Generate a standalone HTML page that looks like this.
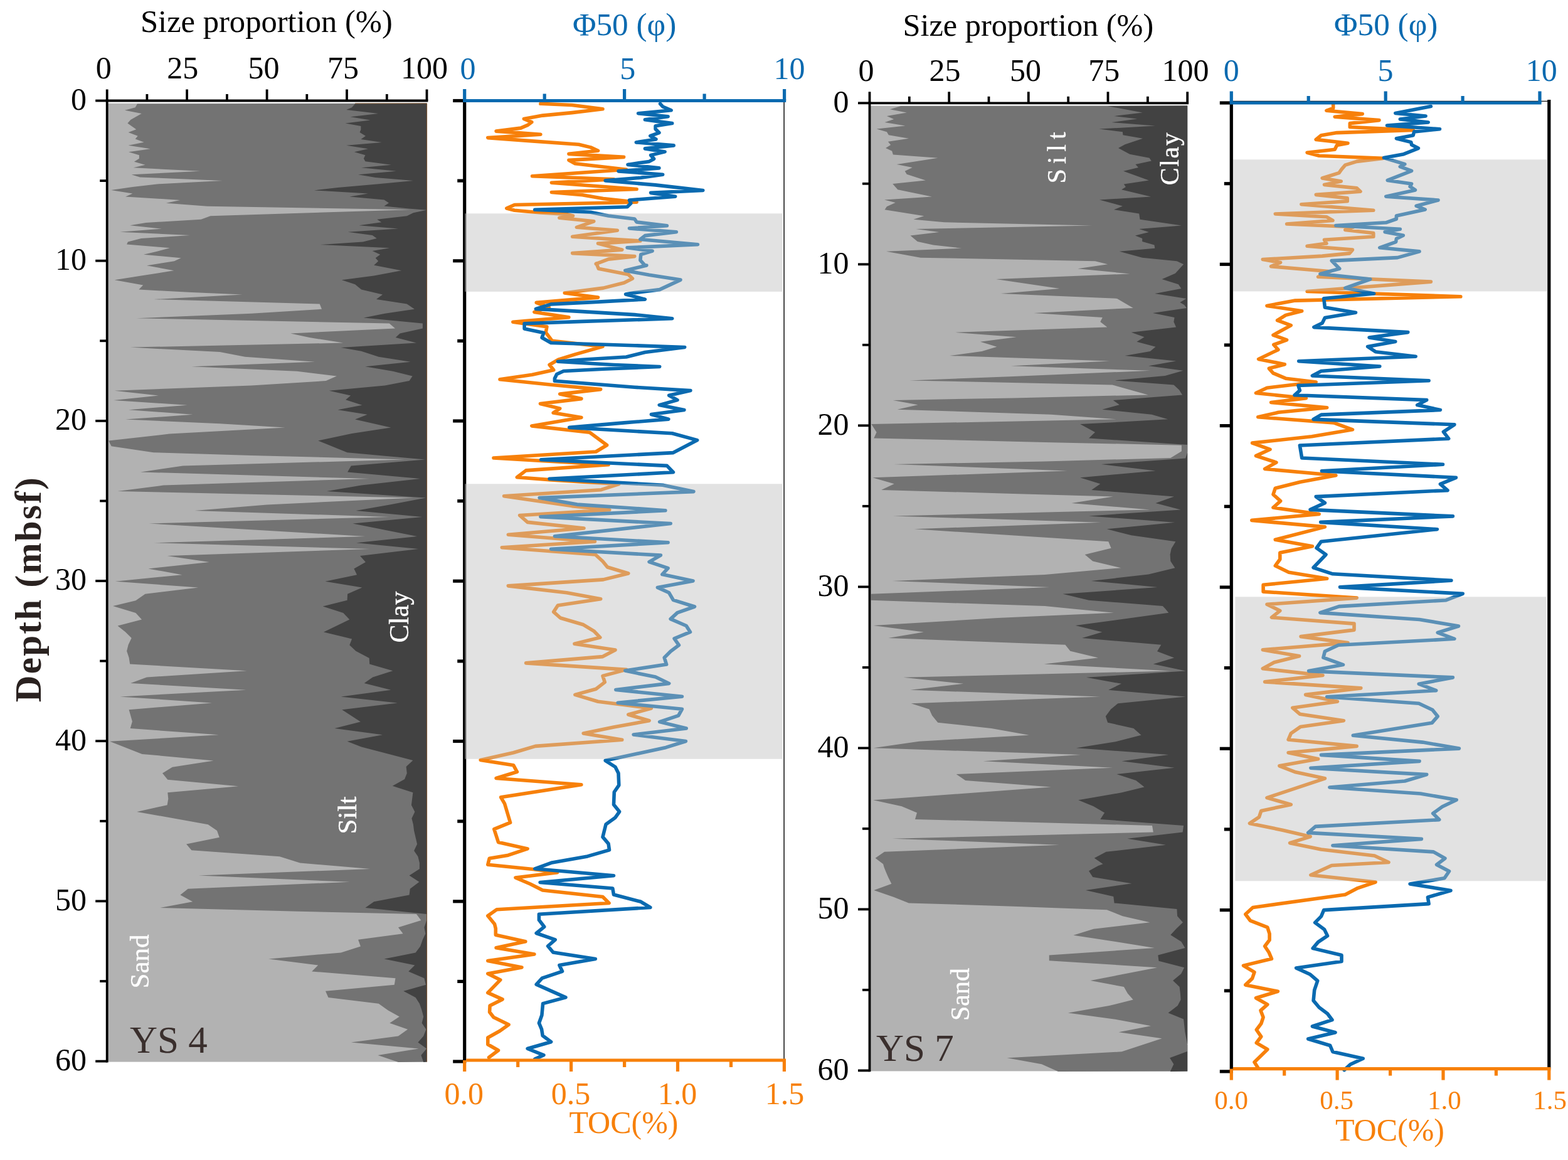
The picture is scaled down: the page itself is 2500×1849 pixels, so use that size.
<!DOCTYPE html>
<html lang="en"><head><meta charset="utf-8"><title>Grain size, Φ50 and TOC versus depth (YS 4, YS 7)</title>
<style>html,body{margin:0;padding:0;background:#fff}body{width:2500px;height:1849px;overflow:hidden}svg{display:block}</style>
</head><body>
<svg width="2500" height="1849" viewBox="0 0 2500 1849" font-family="'Liberation Serif', 'Times New Roman', serif">
<rect width="2500" height="1849" fill="#fff"/>
<rect x="170.7" y="164.8" width="509.8" height="1527.8" fill="#b2b2b2"/>
<polygon points="680.5,164.8 218.9,165.5 215.7,171.3 198.9,175.8 225.7,181.1 208.2,190.9 203.4,196.4 217.2,206.2 204.6,210.9 219.7,216.7 215.7,221.4 229.5,226.7 204.6,231.7 239.7,237.2 205.1,242.2 221.9,247.3 221.9,252.8 213.9,257.8 231.5,262.8 212.7,267.3 319.2,272.8 209.7,278.3 223.2,282.4 354.8,287.9 250.3,293.4 211.4,297.9 177.1,302.9 211.4,308.4 200.1,313.4 287.1,319.0 264.8,323.7 330.5,328.7 655.1,334.2 335.5,344.3 320.5,349.8 232.7,355.0 207.2,359.3 257.8,364.6 191.4,369.8 302.9,375.1 225.2,380.1 203.9,385.6 202.1,389.4 270.8,395.2 250.3,400.7 229.0,405.7 288.6,411.2 277.8,416.2 234.0,423.2 277.3,431.3 225.2,439.5 182.6,446.3 228.2,454.6 221.4,461.6 300.4,465.8 386.4,469.6 245.3,477.1 509.7,484.4 513.0,492.7 400.7,499.7 217.7,507.2 620.8,515.5 630.0,523.5 463.3,531.5 493.4,538.0 547.3,546.6 207.7,553.6 350.5,561.1 390.6,568.8 502.2,576.8 305.4,584.3 473.4,591.8 536.8,599.4 519.7,607.1 400.7,614.6 182.6,622.7 252.8,630.4 181.3,638.0 298.6,645.7 205.1,653.2 307.4,660.8 200.1,668.5 350.5,675.3 454.6,681.6 270.3,691.6 173.1,702.4 177.6,711.2 244.8,721.2 400.7,725.9 645.1,732.5 291.6,742.5 223.9,752.5 589.2,763.0 260.3,773.6 187.6,783.1 658.9,793.6 425.7,804.4 310.4,813.9 620.8,824.0 237.7,834.5 582.4,855.0 245.3,865.3 589.9,875.1 266.6,885.9 333.7,895.9 236.5,906.4 290.4,916.2 183.8,926.7 316.2,936.5 231.5,946.8 216.4,957.3 180.1,966.1 216.4,977.0 226.0,987.5 187.6,997.6 200.1,1007.6 209.7,1017.1 204.6,1027.7 202.1,1037.7 205.6,1048.2 207.2,1058.5 393.7,1069.3 234.0,1079.5 208.2,1089.1 392.6,1099.8 191.4,1110.4 338.0,1120.4 205.6,1131.2 210.9,1150.0 207.7,1161.0 348.8,1171.3 175.1,1181.8 226.5,1201.9 340.5,1212.4 274.8,1222.7 259.0,1232.5 267.3,1242.7 380.1,1253.3 267.3,1263.3 268.3,1273.3 266.6,1283.3 218.2,1293.9 331.7,1314.2 346.0,1323.9 349.8,1334.7 297.1,1345.5 305.4,1355.3 445.8,1365.3 478.4,1375.6 590.4,1385.0 316.7,1395.5 557.8,1405.8 299.7,1416.8 287.4,1426.4 307.2,1437.2 255.3,1446.9 475.9,1452.7 663.9,1457.0 671.4,1467.0 635.0,1478.3 642.6,1488.3 571.1,1497.8 574.9,1508.6 543.6,1518.4 428.2,1528.6 507.2,1538.4 497.2,1548.5 630.5,1559.2 628.8,1569.8 519.0,1579.8 523.5,1590.1 603.7,1599.8 618.8,1610.6 636.8,1620.6 621.3,1630.7 650.1,1640.7 635.0,1651.5 559.8,1661.5 667.6,1671.5 602.5,1682.1 635.0,1693.1 680.5,1692.6" fill="#737373"/>
<polygon points="680.5,164.8 566.1,165.5 561.1,171.3 552.3,175.1 603.2,181.1 558.6,186.3 590.4,191.4 550.6,196.4 575.4,200.9 575.4,206.4 573.6,210.9 582.9,216.7 575.4,221.9 608.7,227.0 552.3,231.7 586.9,237.2 564.9,242.2 582.4,247.3 579.9,252.8 582.4,257.3 623.8,262.8 576.1,267.3 631.8,272.8 571.1,278.3 598.7,282.9 658.9,287.9 601.2,293.4 538.5,299.1 500.9,303.4 586.9,308.4 557.3,313.4 612.5,318.5 620.0,323.5 612.5,328.5 651.3,332.5 680.2,334.7 658.9,339.3 648.8,344.3 601.2,349.8 608.2,354.3 572.4,359.3 635.0,364.6 554.8,369.8 593.7,375.1 600.7,379.9 578.6,385.6 511.0,390.1 621.3,395.2 593.7,399.9 606.2,405.7 598.7,411.2 603.2,416.2 596.2,422.7 640.1,431.3 596.2,439.5 544.8,446.3 566.1,453.3 576.1,461.6 610.0,469.6 600.0,477.1 648.8,484.4 660.9,492.7 613.7,499.7 579.9,506.5 673.9,515.5 673.9,523.5 637.6,531.5 630.8,538.0 663.9,546.6 543.6,554.1 576.1,559.8 603.7,568.8 654.6,576.8 582.4,584.3 626.3,591.8 657.6,599.4 652.6,607.1 613.7,614.6 524.8,622.7 559.1,630.4 551.1,637.2 577.4,645.7 538.5,653.2 585.7,660.8 566.1,668.5 623.3,681.6 561.1,691.1 507.2,702.4 553.6,721.2 613.7,726.7 677.7,732.5 559.8,742.5 554.1,752.5 670.1,763.0 576.1,773.6 521.0,783.1 678.9,793.6 621.3,804.4 567.4,813.9 673.4,824.0 562.4,834.5 665.1,855.0 568.1,865.3 667.1,875.1 574.1,885.9 582.9,895.9 564.4,906.4 569.1,916.2 518.5,926.7 577.4,936.5 554.1,946.8 553.6,956.8 514.7,966.6 547.3,977.0 557.3,987.5 516.0,1007.6 561.1,1018.4 557.3,1028.2 567.4,1037.7 588.7,1049.0 589.2,1058.5 626.3,1069.3 594.2,1079.5 580.7,1089.1 623.3,1099.8 543.6,1110.4 633.8,1120.4 545.3,1131.2 574.9,1150.5 533.5,1161.0 610.0,1171.3 553.6,1181.8 576.1,1190.6 658.4,1211.9 647.6,1221.9 648.8,1232.5 645.1,1242.0 625.8,1252.8 658.4,1263.3 655.9,1283.3 661.4,1293.9 656.4,1304.6 658.9,1314.2 660.1,1323.9 662.6,1334.7 665.1,1345.5 660.1,1356.0 666.4,1365.3 668.9,1375.6 668.9,1385.0 652.6,1395.5 668.4,1405.8 653.8,1416.8 652.6,1426.4 596.2,1437.2 582.4,1446.9 680.2,1457.0 680.2,1467.0 676.4,1478.3 678.4,1488.3 673.9,1497.8 670.1,1508.6 662.6,1518.4 612.5,1528.6 661.4,1538.4 651.3,1548.5 676.4,1559.2 678.9,1569.8 643.3,1579.8 662.6,1590.1 668.9,1599.8 672.6,1610.6 675.2,1620.6 672.6,1630.7 679.4,1640.7 675.2,1651.5 666.4,1661.5 680.2,1671.5 671.4,1682.1 675.2,1693.1 680.5,1692.6" fill="#424242"/>
<rect x="679.9" y="164.8" width="1.2" height="1527.8" fill="#7a4a1e" opacity="0.75"/>
<rect x="566.1" y="164.3" width="114.4" height="1.1" fill="#7a4a1e" opacity="0.75"/>
<line x1="170.7" y1="158.6" x2="170.7" y2="1693.5" stroke="#000" stroke-width="3.8"/>
<line x1="168.8" y1="160.5" x2="682.4" y2="160.5" stroke="#000" stroke-width="3.8"/>
<line x1="170.7" y1="142.5" x2="170.7" y2="160.5" stroke="#000" stroke-width="3.8"/>
<line x1="234.4" y1="150.0" x2="234.4" y2="160.5" stroke="#000" stroke-width="3.8"/>
<line x1="298.1" y1="142.5" x2="298.1" y2="160.5" stroke="#000" stroke-width="3.8"/>
<line x1="361.9" y1="150.0" x2="361.9" y2="160.5" stroke="#000" stroke-width="3.8"/>
<line x1="425.6" y1="142.5" x2="425.6" y2="160.5" stroke="#000" stroke-width="3.8"/>
<line x1="489.3" y1="150.0" x2="489.3" y2="160.5" stroke="#000" stroke-width="3.8"/>
<line x1="553.0" y1="142.5" x2="553.0" y2="160.5" stroke="#000" stroke-width="3.8"/>
<line x1="616.8" y1="150.0" x2="616.8" y2="160.5" stroke="#000" stroke-width="3.8"/>
<line x1="680.5" y1="142.5" x2="680.5" y2="160.5" stroke="#000" stroke-width="3.8"/>
<line x1="152.2" y1="160.5" x2="170.7" y2="160.5" stroke="#000" stroke-width="3.8"/>
<line x1="159.2" y1="288.1" x2="170.7" y2="288.1" stroke="#000" stroke-width="3.8"/>
<line x1="152.2" y1="415.7" x2="170.7" y2="415.7" stroke="#000" stroke-width="3.8"/>
<line x1="159.2" y1="543.3" x2="170.7" y2="543.3" stroke="#000" stroke-width="3.8"/>
<line x1="152.2" y1="670.9" x2="170.7" y2="670.9" stroke="#000" stroke-width="3.8"/>
<line x1="159.2" y1="798.5" x2="170.7" y2="798.5" stroke="#000" stroke-width="3.8"/>
<line x1="152.2" y1="926.0" x2="170.7" y2="926.0" stroke="#000" stroke-width="3.8"/>
<line x1="159.2" y1="1053.6" x2="170.7" y2="1053.6" stroke="#000" stroke-width="3.8"/>
<line x1="152.2" y1="1181.2" x2="170.7" y2="1181.2" stroke="#000" stroke-width="3.8"/>
<line x1="159.2" y1="1308.8" x2="170.7" y2="1308.8" stroke="#000" stroke-width="3.8"/>
<line x1="152.2" y1="1436.4" x2="170.7" y2="1436.4" stroke="#000" stroke-width="3.8"/>
<line x1="159.2" y1="1564.0" x2="170.7" y2="1564.0" stroke="#000" stroke-width="3.8"/>
<line x1="152.2" y1="1691.6" x2="170.7" y2="1691.6" stroke="#000" stroke-width="3.8"/>
<rect x="1386.5" y="168.6" width="506.7" height="1538.8" fill="#b2b2b2"/>
<polygon points="1893.2,168.6 1436.4,169.1 1418.9,174.3 1445.7,179.6 1413.9,185.1 1425.2,190.1 1410.6,195.1 1443.5,200.6 1397.6,205.6 1413.9,210.2 1416.9,215.2 1449.0,220.7 1415.9,225.7 1420.1,231.0 1412.1,236.0 1422.2,240.7 1423.9,246.5 1495.3,251.8 1429.7,262.1 1454.7,267.1 1442.7,272.8 1445.7,277.8 1475.8,287.4 1423.2,292.9 1431.4,302.2 1485.8,313.4 1410.1,318.5 1427.7,323.0 1413.9,329.2 1410.6,334.2 1473.3,344.3 1456.5,349.8 1505.4,354.3 1741.8,359.6 1460.3,365.1 1497.4,370.1 1451.5,375.6 1462.8,384.9 1487.8,390.6 1533.5,395.7 1413.1,400.7 1467.8,410.7 1746.0,416.2 1766.1,421.2 1718.4,428.2 1801.7,436.5 1588.1,445.0 1689.6,460.1 1595.6,467.9 1781.1,475.9 1806.7,490.9 1648.3,498.9 1757.8,506.0 1754.3,513.0 1765.3,521.5 1522.9,529.8 1620.7,537.3 1563.0,544.8 1589.4,552.8 1565.5,560.0 1514.1,567.0 1769.3,575.5 1611.9,583.3 1834.5,590.8 1615.7,600.1 1450.2,606.4 1773.6,613.4 1830.7,629.4 1615.7,634.4 1423.9,638.0 1463.5,645.2 1430.7,652.7 1675.8,660.8 1779.9,668.3 1389.3,676.1 1397.6,689.1 1393.3,698.4 1665.8,704.9 1883.9,709.7 1883.9,719.2 1866.3,730.0 1665.8,735.5 1425.2,740.0 1701.7,750.5 1391.3,761.3 1425.7,771.3 1405.1,781.1 1615.7,786.9 1774.8,791.4 1708.4,801.9 1833.8,812.4 1423.9,822.5 1755.5,832.7 1457.7,843.3 1767.3,863.3 1771.6,873.8 1729.7,884.1 1742.3,894.6 1787.4,905.2 1665.8,916.0 1422.7,926.0 1673.3,936.0 1388.8,946.8 1388.8,956.8 1665.8,966.1 1715.9,971.1 1776.1,976.8 1590.6,985.0 1392.6,997.1 1472.8,1007.6 1416.4,1017.1 1698.4,1027.7 1706.4,1037.7 1751.0,1048.5 1664.6,1058.5 1866.3,1069.5 1440.2,1079.8 1536.2,1089.8 1451.5,1099.8 1754.3,1110.4 1452.7,1121.2 1481.6,1130.4 1486.1,1140.5 1495.3,1151.7 1580.6,1161.0 1640.7,1171.8 1465.3,1181.8 1392.6,1192.3 1723.0,1203.1 1567.5,1213.2 1774.1,1223.7 1524.7,1234.0 1539.2,1244.0 1675.8,1254.5 1540.5,1264.5 1392.1,1275.3 1437.7,1285.3 1462.0,1295.4 1459.0,1305.9 1837.0,1315.9 1838.8,1326.5 1422.7,1336.7 1689.1,1346.8 1410.1,1357.8 1395.6,1367.8 1408.1,1377.3 1409.6,1382.5 1412.6,1390.0 1416.4,1398.8 1421.4,1408.8 1393.3,1418.9 1425.2,1430.1 1449.0,1439.4 1615.7,1444.7 1764.8,1450.2 1789.9,1460.2 1833.3,1470.2 1743.5,1480.8 1711.4,1490.8 1778.6,1501.1 1840.8,1511.1 1672.8,1522.4 1672.8,1531.2 1845.0,1542.2 1738.5,1563.0 1791.9,1573.0 1797.9,1583.5 1806.7,1593.6 1768.6,1603.1 1702.9,1614.4 1776.1,1624.4 1835.0,1635.2 1783.6,1645.2 1852.6,1655.2 1788.6,1676.3 1605.6,1686.3 1660.8,1696.3 1687.1,1708.1 1893.2,1707.4" fill="#737373"/>
<polygon points="1893.2,168.6 1766.1,169.1 1821.7,179.6 1776.1,185.1 1813.2,189.6 1772.3,195.1 1842.0,200.6 1752.3,205.6 1789.9,210.2 1790.4,215.2 1822.0,220.7 1793.6,230.2 1783.1,236.0 1801.2,245.8 1832.5,251.8 1835.8,256.5 1810.4,262.1 1815.0,267.1 1791.1,272.8 1831.8,287.4 1791.9,293.4 1794.9,297.9 1788.1,302.2 1835.0,313.4 1753.0,318.5 1789.9,328.5 1776.1,334.2 1816.2,340.5 1817.5,349.8 1883.9,359.6 1816.2,365.1 1831.8,370.1 1809.9,375.6 1821.2,379.9 1821.2,384.9 1840.5,390.6 1841.3,395.7 1784.9,400.7 1821.2,410.7 1876.4,416.2 1887.1,421.2 1873.9,435.8 1852.6,445.0 1878.9,453.3 1883.4,460.1 1841.3,467.9 1891.4,475.9 1881.4,482.1 1888.2,485.9 1891.9,490.9 1838.0,498.9 1872.6,506.0 1871.4,513.0 1875.1,521.5 1803.7,529.8 1824.5,537.3 1812.4,544.8 1842.5,552.8 1833.8,560.0 1793.6,567.0 1875.1,575.5 1831.2,583.3 1886.4,590.8 1857.6,598.9 1777.4,606.4 1871.4,613.4 1880.1,621.4 1885.1,629.4 1774.8,638.0 1784.9,645.2 1757.3,652.7 1836.3,660.8 1862.1,668.3 1722.2,676.1 1746.0,689.1 1736.0,698.4 1893.4,709.1 1893.4,720.4 1890.2,730.5 1756.0,740.0 1842.5,750.5 1722.2,761.3 1754.3,771.3 1740.3,781.1 1871.9,791.4 1842.5,801.9 1882.6,812.4 1736.0,822.5 1873.1,832.7 1764.8,843.3 1803.7,853.3 1874.4,863.3 1867.6,874.6 1865.6,884.1 1866.3,894.6 1873.4,905.2 1831.2,915.5 1739.8,926.0 1845.5,936.0 1694.6,946.8 1736.0,956.8 1853.8,966.1 1857.6,970.0 1863.3,976.8 1714.7,997.1 1757.3,1007.6 1725.2,1017.1 1851.3,1027.7 1845.0,1038.2 1872.1,1048.5 1838.8,1058.5 1890.7,1069.5 1732.2,1079.8 1787.9,1089.8 1767.3,1099.8 1890.7,1110.4 1782.4,1121.2 1771.1,1130.4 1762.8,1141.7 1766.1,1151.7 1807.4,1161.0 1819.5,1171.8 1778.6,1182.3 1715.9,1192.3 1863.3,1203.1 1788.6,1213.2 1872.6,1223.7 1780.4,1234.0 1811.2,1244.0 1824.5,1254.5 1788.6,1263.3 1719.2,1275.3 1743.5,1285.3 1761.1,1295.4 1754.3,1305.9 1887.1,1315.9 1885.6,1326.5 1797.4,1336.7 1858.8,1346.8 1763.6,1357.8 1744.8,1367.8 1758.6,1377.3 1751.0,1380.0 1736.0,1388.3 1742.3,1398.0 1804.4,1408.3 1731.0,1418.9 1775.3,1428.9 1776.6,1439.4 1876.4,1448.9 1877.1,1460.2 1885.9,1470.2 1875.1,1480.8 1866.3,1490.3 1883.4,1501.1 1889.4,1511.1 1846.3,1522.4 1847.5,1531.7 1888.2,1542.2 1883.1,1552.2 1870.1,1563.0 1880.6,1573.0 1881.9,1583.5 1882.6,1593.6 1877.6,1603.1 1862.6,1614.4 1887.1,1624.4 1889.4,1645.2 1893.4,1665.8 1893.4,1675.8 1865.1,1686.3 1871.4,1696.3 1865.8,1708.1 1893.2,1707.4" fill="#424242"/>
<line x1="1386.5" y1="162.4" x2="1386.5" y2="1708.3" stroke="#000" stroke-width="3.8"/>
<line x1="1384.6" y1="164.3" x2="1895.1" y2="164.3" stroke="#000" stroke-width="3.8"/>
<line x1="1386.5" y1="146.3" x2="1386.5" y2="164.3" stroke="#000" stroke-width="3.8"/>
<line x1="1449.8" y1="153.8" x2="1449.8" y2="164.3" stroke="#000" stroke-width="3.8"/>
<line x1="1513.2" y1="146.3" x2="1513.2" y2="164.3" stroke="#000" stroke-width="3.8"/>
<line x1="1576.5" y1="153.8" x2="1576.5" y2="164.3" stroke="#000" stroke-width="3.8"/>
<line x1="1639.8" y1="146.3" x2="1639.8" y2="164.3" stroke="#000" stroke-width="3.8"/>
<line x1="1703.2" y1="153.8" x2="1703.2" y2="164.3" stroke="#000" stroke-width="3.8"/>
<line x1="1766.5" y1="146.3" x2="1766.5" y2="164.3" stroke="#000" stroke-width="3.8"/>
<line x1="1829.9" y1="153.8" x2="1829.9" y2="164.3" stroke="#000" stroke-width="3.8"/>
<line x1="1893.2" y1="146.3" x2="1893.2" y2="164.3" stroke="#000" stroke-width="3.8"/>
<line x1="1368.0" y1="164.3" x2="1386.5" y2="164.3" stroke="#000" stroke-width="3.8"/>
<line x1="1375.0" y1="292.8" x2="1386.5" y2="292.8" stroke="#000" stroke-width="3.8"/>
<line x1="1368.0" y1="421.3" x2="1386.5" y2="421.3" stroke="#000" stroke-width="3.8"/>
<line x1="1375.0" y1="549.8" x2="1386.5" y2="549.8" stroke="#000" stroke-width="3.8"/>
<line x1="1368.0" y1="678.3" x2="1386.5" y2="678.3" stroke="#000" stroke-width="3.8"/>
<line x1="1375.0" y1="806.8" x2="1386.5" y2="806.8" stroke="#000" stroke-width="3.8"/>
<line x1="1368.0" y1="935.4" x2="1386.5" y2="935.4" stroke="#000" stroke-width="3.8"/>
<line x1="1375.0" y1="1063.9" x2="1386.5" y2="1063.9" stroke="#000" stroke-width="3.8"/>
<line x1="1368.0" y1="1192.4" x2="1386.5" y2="1192.4" stroke="#000" stroke-width="3.8"/>
<line x1="1375.0" y1="1320.9" x2="1386.5" y2="1320.9" stroke="#000" stroke-width="3.8"/>
<line x1="1368.0" y1="1449.4" x2="1386.5" y2="1449.4" stroke="#000" stroke-width="3.8"/>
<line x1="1375.0" y1="1577.9" x2="1386.5" y2="1577.9" stroke="#000" stroke-width="3.8"/>
<line x1="1368.0" y1="1706.4" x2="1386.5" y2="1706.4" stroke="#000" stroke-width="3.8"/>
<g fill="none" stroke-linejoin="round" stroke-linecap="round" stroke-width="5.6">
<polyline points="861.9,165.3 911.9,167.5 961.0,173.8 911.9,179.6 865.2,184.1 835.3,189.5 847.8,194.6 841.9,199.1 830.3,204.1 791.1,209.1 861.9,214.3 777.8,219.6 845.3,224.6 922.7,230.3 941.8,234.9 953.5,240.3 906.9,245.4 994.6,250.4 906.9,255.4 916.9,260.7 998.5,270.2 848.6,280.7 978.5,285.7 879.4,291.2 1015.1,301.5 879.4,306.5 928.5,310.7 961.8,316.5 1015.1,322.3 820.3,326.5 807.8,332.0 820.3,335.2 861.9,339.0 903.5,341.5 913.5,344.0 891.9,347.3 946.8,352.8 919.4,362.3 984.3,367.3 912.7,377.3 1020.9,384.0 953.5,388.1 991.8,398.1 912.7,403.6 1011.8,408.6 970.1,413.1 950.2,420.6 951.0,420.0 954.3,428.3 1001.8,437.5 1008.4,444.1 995.1,450.8 961.8,459.1 900.2,467.0 953.5,474.1 855.2,482.4 875.2,489.9 851.9,497.4 906.9,505.8 817.8,513.2 871.9,520.7 870.2,529.9 880.2,543.2 961.0,552.4 916.9,564.9 890.2,573.2 876.1,581.5 882.7,589.8 848.6,597.3 797.0,604.8 878.6,613.2 957.7,620.6 892.7,628.1 926.9,635.6 861.4,643.5 892.7,651.1 882.2,658.1 926.9,665.6 847.8,678.9 940.2,689.2 967.6,709.5 950.2,720.0 787.0,730.0 970.1,740.8 838.6,749.9 824.4,760.8 878.6,764.9 986.8,771.6 958.5,780.7 803.6,790.7 911.9,806.6 971.8,812.7 828.6,821.5 841.1,832.4 931.0,842.0 810.3,852.3 948.5,863.2 800.3,872.8 949.3,884.0 961.0,894.8 968.5,904.0 1001.8,914.0 961.8,923.9 810.3,933.9 903.5,944.8 957.7,954.7 889.4,965.0 882.7,975.3 893.5,985.0 930.2,995.8 946.8,1005.8 956.8,1016.1 916.0,1026.3 981.0,1036.1 961.0,1046.6 838.6,1056.9 998.5,1067.4 961.0,1077.4 964.3,1087.4 950.2,1098.2 916.9,1107.4 953.5,1118.2 1038.4,1129.0 1001.8,1139.0 1035.1,1148.7 978.5,1159.0 930.2,1169.0 991.8,1179.3 853.6,1189.4 818.6,1199.8 766.2,1211.4 818.6,1219.7 824.4,1230.3 791.1,1240.5 926.9,1250.8 798.6,1270.8 804.5,1280.8 813.6,1311.2 787.8,1321.6 794.5,1342.4 841.1,1352.9 810.3,1363.2 780.3,1368.2 777.8,1378.2 851.9,1385.7 888.6,1390.7 821.9,1399.0 845.3,1409.0 865.2,1419.0 961.0,1429.5 971.0,1439.5 792.0,1449.8 777.8,1459.8 788.6,1473.1 790.3,1480.0 790.3,1490.3 837.8,1500.8 791.1,1510.8 851.9,1521.1 777.8,1531.6 831.9,1541.9 777.8,1551.9 797.8,1561.9 777.8,1582.4 801.1,1592.9 781.1,1602.9 780.6,1613.2 787.0,1621.5 811.1,1633.2 797.0,1643.2 777.8,1654.0 777.8,1664.8 794.5,1674.3 779.5,1685.6" stroke="#f7800a"/>
<polyline points="1052.6,165.3 1056.7,170.0 1070.1,175.8 1017.6,180.8 1065.1,185.8 1028.4,190.8 1071.7,196.6 1045.1,200.8 1045.1,205.8 1050.9,211.6 1036.8,216.6 1045.9,221.9 1014.3,226.9 1074.2,231.9 1028.4,236.9 1060.1,241.9 1037.6,247.4 1042.6,253.2 1035.1,257.4 1001.0,262.4 1050.9,267.9 986.0,272.9 1056.7,278.2 1021.8,283.2 965.2,287.9 1045.1,294.9 1120.8,303.5 1037.6,307.4 1076.7,313.2 1003.5,319.0 1005.9,324.0 1000.1,329.8 852.8,334.3 941.8,338.2 970.1,344.0 1011.8,349.0 1015.1,354.0 1063.4,359.8 1003.5,364.0 1078.4,369.8 1028.4,375.6 1020.9,381.5 1112.5,389.8 1000.1,394.8 1040.1,400.1 1021.8,405.6 1020.9,414.8 1028.4,423.1 1030.9,423.0 996.8,431.2 1035.1,438.3 1085.0,446.1 1051.7,461.6 1011.8,466.6 997.6,469.1 1028.4,477.1 945.2,481.6 878.6,484.9 854.4,492.4 928.5,496.6 1011.8,501.6 1071.7,507.8 928.5,512.4 836.1,515.7 836.1,524.1 866.9,530.4 864.1,538.2 878.6,546.5 1011.8,550.7 1091.7,553.5 1028.4,561.5 998.5,569.0 928.5,573.2 889.4,576.2 978.5,581.5 1051.7,584.5 961.8,588.2 898.5,591.5 887.7,596.5 884.4,603.2 884.4,607.3 1011.8,617.3 1100.9,622.6 1066.7,630.3 1080.0,637.6 1051.2,645.6 1090.9,653.5 1038.4,660.6 1065.9,668.1 995.1,673.9 907.7,681.4 1071.7,690.8 1111.7,701.6 1073.4,721.6 862.7,732.8 1063.4,742.4 1073.4,752.8 876.1,763.3 1056.7,773.2 1105.9,783.6 860.2,793.6 920.2,804.1 1060.9,813.7 861.9,823.7 1069.2,834.5 884.4,854.8 1065.1,864.8 878.6,875.2 1053.4,885.1 1035.1,895.6 1065.1,905.6 1055.9,915.6 1105.0,925.9 1048.4,936.4 1066.7,944.8 1073.4,956.3 1107.5,967.0 1080.0,976.6 1069.2,986.6 1094.2,997.5 1100.5,1007.4 1075.1,1017.8 1082.5,1028.3 1069.2,1038.2 1059.2,1048.2 1062.6,1059.1 996.8,1069.1 1045.1,1079.0 1066.7,1089.4 981.8,1099.5 1087.5,1110.2 985.1,1120.2 1087.5,1130.2 1081.7,1140.7 1051.7,1150.6 1094.2,1161.0 1010.1,1171.0 1093.4,1181.5 1061.7,1191.4 965.2,1212.3 981.0,1222.5 986.0,1232.5 986.8,1251.6 979.3,1262.5 978.5,1282.4 987.6,1293.8 981.0,1303.2 966.0,1314.1 961.0,1334.1 970.1,1344.9 971.5,1354.9 936.8,1364.9 880.2,1374.9 852.8,1384.8 978.5,1395.7 861.1,1406.5 976.8,1416.0 978.5,1426.0 1021.8,1437.3 1036.8,1446.5 859.4,1457.3 859.4,1466.4 867.7,1477.3 855.2,1487.5 885.2,1497.8 873.6,1508.0 881.9,1518.0 949.3,1528.6 891.9,1538.6 896.5,1548.3 864.4,1559.1 855.2,1569.1 901.9,1589.9 865.6,1599.6 863.9,1618.2 859.4,1630.7 863.6,1640.7 865.2,1650.7 878.6,1660.7 841.1,1671.5 866.9,1681.8 852.8,1688.1" stroke="#0a6ab0"/>
</g>
<line x1="1250.1" y1="160.5" x2="1250.1" y2="1690.0" stroke="#3c3c3c" stroke-width="1.9"/>
<line x1="740.7" y1="157.9" x2="740.7" y2="1694.6" stroke="#000" stroke-width="5.2"/>
<line x1="722.2" y1="160.5" x2="740.7" y2="160.5" stroke="#000" stroke-width="5.2"/>
<line x1="729.2" y1="288.1" x2="740.7" y2="288.1" stroke="#000" stroke-width="5.2"/>
<line x1="722.2" y1="415.8" x2="740.7" y2="415.8" stroke="#000" stroke-width="5.2"/>
<line x1="729.2" y1="543.4" x2="740.7" y2="543.4" stroke="#000" stroke-width="5.2"/>
<line x1="722.2" y1="671.0" x2="740.7" y2="671.0" stroke="#000" stroke-width="5.2"/>
<line x1="729.2" y1="798.6" x2="740.7" y2="798.6" stroke="#000" stroke-width="5.2"/>
<line x1="722.2" y1="926.2" x2="740.7" y2="926.2" stroke="#000" stroke-width="5.2"/>
<line x1="729.2" y1="1053.9" x2="740.7" y2="1053.9" stroke="#000" stroke-width="5.2"/>
<line x1="722.2" y1="1181.5" x2="740.7" y2="1181.5" stroke="#000" stroke-width="5.2"/>
<line x1="729.2" y1="1309.1" x2="740.7" y2="1309.1" stroke="#000" stroke-width="5.2"/>
<line x1="722.2" y1="1436.8" x2="740.7" y2="1436.8" stroke="#000" stroke-width="5.2"/>
<line x1="729.2" y1="1564.4" x2="740.7" y2="1564.4" stroke="#000" stroke-width="5.2"/>
<line x1="722.2" y1="1692.0" x2="740.7" y2="1692.0" stroke="#000" stroke-width="5.2"/>
<line x1="738.1" y1="160.5" x2="1253.2" y2="160.5" stroke="#0a6ab0" stroke-width="5.2"/>
<line x1="740.7" y1="142.0" x2="740.7" y2="160.5" stroke="#0a6ab0" stroke-width="5.2"/>
<line x1="868.2" y1="149.5" x2="868.2" y2="160.5" stroke="#0a6ab0" stroke-width="5.2"/>
<line x1="995.6" y1="142.0" x2="995.6" y2="160.5" stroke="#0a6ab0" stroke-width="5.2"/>
<line x1="1123.1" y1="149.5" x2="1123.1" y2="160.5" stroke="#0a6ab0" stroke-width="5.2"/>
<line x1="1250.6" y1="142.0" x2="1250.6" y2="160.5" stroke="#0a6ab0" stroke-width="5.2"/>
<line x1="743.3" y1="1690.0" x2="1253.0" y2="1690.0" stroke="#f7800a" stroke-width="5.2"/>
<line x1="740.7" y1="1690.0" x2="740.7" y2="1708.0" stroke="#f7800a" stroke-width="5.2"/>
<line x1="825.7" y1="1690.0" x2="825.7" y2="1701.0" stroke="#f7800a" stroke-width="5.2"/>
<line x1="910.6" y1="1690.0" x2="910.6" y2="1708.0" stroke="#f7800a" stroke-width="5.2"/>
<line x1="995.6" y1="1690.0" x2="995.6" y2="1701.0" stroke="#f7800a" stroke-width="5.2"/>
<line x1="1080.5" y1="1690.0" x2="1080.5" y2="1708.0" stroke="#f7800a" stroke-width="5.2"/>
<line x1="1165.5" y1="1690.0" x2="1165.5" y2="1701.0" stroke="#f7800a" stroke-width="5.2"/>
<line x1="1250.4" y1="1690.0" x2="1250.4" y2="1708.0" stroke="#f7800a" stroke-width="5.2"/>
<rect x="741.0" y="340.3" width="506.7" height="124.6" fill="#bebebe" fill-opacity="0.45"/>
<rect x="741.0" y="771.3" width="506.7" height="438.5" fill="#bebebe" fill-opacity="0.45"/>
<g fill="none" stroke-linejoin="round" stroke-linecap="round" stroke-width="5.6">
<polyline points="2125.7,166.7 2125.7,172.5 2114.9,176.3 2172.3,181.6 2128.2,186.3 2199.0,191.6 2152.3,196.6 2152.3,202.5 2253.1,207.4 2131.5,211.6 2106.5,215.8 2098.2,222.4 2149.0,228.3 2131.5,231.6 2128.2,238.3 2084.1,243.2 2103.2,248.2 2204.8,252.4 2163.2,257.4 2144.8,263.2 2139.0,269.9 2134.9,275.7 2108.2,284.0 2138.2,289.0 2111.5,294.5 2163.2,299.9 2169.0,305.2 2098.2,310.4 2148.2,315.7 2148.2,320.7 2074.9,325.7 2189.8,335.2 2033.3,341.0 2114.9,345.7 2124.9,351.5 2051.6,357.0 2158.2,361.8 2144.8,366.5 2189.8,371.5 2189.8,377.3 2111.5,382.3 2114.9,388.1 2084.1,392.3 2156.5,398.1 2151.5,403.9 2108.2,408.1 2013.3,413.6 2041.6,418.4 2026.6,424.7 2120.9,432.7 2101.6,441.3 2281.4,449.1 2084.1,464.5 2328.8,472.8 2064.9,479.1 2020.0,487.4 2075.7,495.8 2049.9,502.4 2036.6,510.7 2058.3,518.6 2030.0,534.1 2051.6,541.9 2030.8,549.5 2037.9,557.4 2006.6,572.4 2048.3,580.7 2023.3,587.3 2030.0,594.8 2049.9,603.2 2098.2,609.0 2020.0,618.2 2002.5,626.5 2082.4,634.8 2026.6,641.5 2115.7,649.8 2038.3,657.3 2005.8,664.8 2126.5,673.9 2156.5,684.8 2091.6,695.8 1996.6,706.1 2025.0,716.3 2002.5,726.6 2034.9,737.1 2016.6,747.4 2129.9,757.8 2073.2,768.3 2033.3,778.2 2030.0,788.2 2041.6,798.6 2030.0,809.1 2103.2,819.4 1995.8,829.4 2112.4,839.9 2033.3,860.2 2092.4,870.7 2040.8,881.0 2040.8,891.5 2033.3,901.8 2054.9,912.3 2115.7,922.3 2014.1,932.3 2014.1,943.1 2163.2,953.1 2020.0,963.3 2040.8,973.6 2027.5,984.1 2159.0,994.1 2159.0,1004.1 2074.1,1014.6 2149.0,1024.6 2013.3,1035.8 2071.6,1045.7 2031.6,1055.7 2013.3,1065.7 2109.0,1076.5 2016.6,1086.9 2169.8,1096.9 2081.6,1107.4 2132.4,1118.2 2060.8,1128.2 2072.4,1138.2 2142.4,1148.7 2073.2,1158.6 2058.3,1169.0 2054.1,1179.0 2163.2,1189.4 2054.1,1199.8 2101.6,1209.8 2039.9,1220.8 2065.8,1230.8 2112.4,1240.8 2020.0,1271.6 2058.3,1282.4 2010.8,1292.4 2007.5,1302.4 1992.5,1312.4 2044.9,1323.2 2089.1,1333.6 2056.6,1343.7 2106.5,1354.0 2191.5,1364.0 2214.0,1374.5 2123.2,1379.5 2089.9,1394.8 2193.1,1406.0 2164.8,1415.6 2144.8,1426.0 1997.5,1446.5 1985.8,1457.3 1993.3,1467.3 2020.8,1478.1 2024.1,1488.3 2024.1,1498.3 2016.6,1508.3 2023.3,1518.3 2027.5,1528.3 1982.5,1539.1 2000.0,1549.6 1996.6,1559.6 1985.8,1569.9 2037.4,1580.2 2002.5,1590.7 2020.8,1601.1 2010.0,1610.7 2014.1,1621.5 2010.8,1631.5 2003.3,1641.5 2010.8,1652.3 2003.3,1662.3 2020.8,1672.7 2000.0,1693.1 2005.8,1702.3" stroke="#f7800a"/>
<polyline points="2281.4,169.6 2224.8,180.5 2273.1,185.0 2232.3,190.0 2277.2,195.0 2211.5,200.0 2295.5,205.8 2254.7,209.9 2253.1,215.8 2226.4,220.8 2249.8,226.6 2250.6,230.8 2261.4,236.3 2238.1,245.7 2206.5,251.6 2239.8,261.6 2232.3,265.7 2250.6,272.4 2212.3,287.4 2250.6,292.9 2248.1,297.4 2256.4,302.9 2209.8,313.2 2293.0,319.0 2258.1,328.2 2272.2,334.0 2226.4,344.0 2226.4,349.0 2209.8,354.8 2129.9,359.5 2232.3,365.3 2208.1,369.8 2237.3,375.3 2226.4,380.6 2225.6,385.6 2199.8,394.8 2263.1,400.9 2228.1,410.6 2123.2,415.6 2135.7,428.3 2104.9,436.6 2184.8,445.0 2144.8,459.1 2190.6,468.0 2110.7,475.8 2112.4,489.9 2161.5,498.3 2112.4,506.6 2108.2,514.9 2094.9,521.6 2244.8,529.6 2183.1,537.9 2224.8,544.6 2180.6,552.4 2193.1,560.7 2257.2,568.2 2070.7,575.7 2199.8,584.0 2106.5,591.5 2092.4,599.0 2278.1,606.8 2069.9,614.5 2072.4,622.3 2064.1,629.8 2274.7,637.6 2259.7,645.6 2296.4,653.5 2106.5,661.1 2094.1,668.4 2318.9,676.8 2301.4,688.3 2309.7,699.1 2072.4,710.0 2075.7,730.0 2300.5,740.3 2107.4,750.8 2321.4,761.3 2296.4,771.6 2308.0,781.6 2098.2,791.6 2112.4,801.6 2089.1,812.4 2316.4,822.9 2105.7,832.4 2291.4,843.7 2106.5,863.2 2099.1,873.5 2114.0,884.0 2094.1,904.8 2124.9,914.8 2313.9,925.3 2136.5,935.9 2332.2,946.4 2305.5,956.7 2134.9,966.6 2104.9,976.6 2263.1,987.5 2325.5,998.0 2292.2,1008.3 2318.9,1018.3 2134.0,1028.3 2112.4,1038.2 2109.9,1048.2 2141.5,1059.6 2086.6,1069.6 2316.4,1079.9 2262.2,1090.2 2289.7,1100.7 2115.7,1110.7 2262.2,1121.2 2283.9,1131.5 2292.2,1141.8 2283.1,1152.3 2157.3,1172.3 2268.1,1183.1 2326.4,1193.1 2106.5,1203.4 2263.1,1213.4 2089.9,1224.2 2274.7,1234.6 2239.8,1245.0 2119.9,1255.0 2264.7,1265.0 2322.2,1274.9 2299.7,1285.8 2284.7,1296.6 2294.7,1306.6 2097.4,1317.4 2085.7,1327.4 2266.4,1337.4 2124.9,1347.7 2285.6,1357.9 2303.9,1368.2 2290.6,1378.2 2310.5,1388.7 2303.0,1399.8 2248.1,1409.0 2313.0,1419.5 2276.4,1430.1 2278.1,1440.6 2110.7,1450.6 2106.5,1460.6 2096.6,1470.6 2111.5,1481.4 2116.5,1491.7 2101.6,1501.6 2093.2,1511.6 2139.0,1522.5 2139.0,1532.4 2066.6,1542.9 2089.1,1553.3 2100.7,1563.3 2095.7,1578.2 2094.1,1594.9 2103.2,1605.7 2116.5,1615.7 2124.0,1625.7 2092.4,1636.0 2129.0,1645.7 2085.7,1656.0 2120.7,1666.5 2124.9,1676.5 2173.2,1687.3 2153.2,1696.5 2143.2,1705.6" stroke="#0a6ab0"/>
</g>
<line x1="1963.3" y1="161.4" x2="2469.8" y2="161.4" stroke="#111" stroke-width="1.2"/>
<line x1="2469.8" y1="158.9" x2="2469.8" y2="1703.6" stroke="#000" stroke-width="5.2"/>
<line x1="1963.3" y1="161.4" x2="1963.3" y2="1710.5" stroke="#000" stroke-width="5.2"/>
<line x1="1944.8" y1="164.0" x2="1963.3" y2="164.0" stroke="#000" stroke-width="5.2"/>
<line x1="1951.8" y1="292.7" x2="1963.3" y2="292.7" stroke="#000" stroke-width="5.2"/>
<line x1="1944.8" y1="421.3" x2="1963.3" y2="421.3" stroke="#000" stroke-width="5.2"/>
<line x1="1951.8" y1="550.0" x2="1963.3" y2="550.0" stroke="#000" stroke-width="5.2"/>
<line x1="1944.8" y1="678.6" x2="1963.3" y2="678.6" stroke="#000" stroke-width="5.2"/>
<line x1="1951.8" y1="807.3" x2="1963.3" y2="807.3" stroke="#000" stroke-width="5.2"/>
<line x1="1944.8" y1="936.0" x2="1963.3" y2="936.0" stroke="#000" stroke-width="5.2"/>
<line x1="1951.8" y1="1064.6" x2="1963.3" y2="1064.6" stroke="#000" stroke-width="5.2"/>
<line x1="1944.8" y1="1193.3" x2="1963.3" y2="1193.3" stroke="#000" stroke-width="5.2"/>
<line x1="1951.8" y1="1321.9" x2="1963.3" y2="1321.9" stroke="#000" stroke-width="5.2"/>
<line x1="1944.8" y1="1450.6" x2="1963.3" y2="1450.6" stroke="#000" stroke-width="5.2"/>
<line x1="1951.8" y1="1579.2" x2="1963.3" y2="1579.2" stroke="#000" stroke-width="5.2"/>
<line x1="1944.8" y1="1707.9" x2="1963.3" y2="1707.9" stroke="#000" stroke-width="5.2"/>
<line x1="1960.7" y1="164.0" x2="2457.6" y2="164.0" stroke="#0a6ab0" stroke-width="5.2"/>
<line x1="1963.3" y1="145.5" x2="1963.3" y2="164.0" stroke="#0a6ab0" stroke-width="5.2"/>
<line x1="2086.2" y1="153.0" x2="2086.2" y2="164.0" stroke="#0a6ab0" stroke-width="5.2"/>
<line x1="2209.2" y1="145.5" x2="2209.2" y2="164.0" stroke="#0a6ab0" stroke-width="5.2"/>
<line x1="2332.1" y1="153.0" x2="2332.1" y2="164.0" stroke="#0a6ab0" stroke-width="5.2"/>
<line x1="2455.0" y1="145.5" x2="2455.0" y2="164.0" stroke="#0a6ab0" stroke-width="5.2"/>
<line x1="1965.9" y1="1703.6" x2="2472.4" y2="1703.6" stroke="#f7800a" stroke-width="5.2"/>
<line x1="1963.3" y1="1703.6" x2="1963.3" y2="1721.6" stroke="#f7800a" stroke-width="5.2"/>
<line x1="2047.7" y1="1703.6" x2="2047.7" y2="1714.6" stroke="#f7800a" stroke-width="5.2"/>
<line x1="2132.1" y1="1703.6" x2="2132.1" y2="1721.6" stroke="#f7800a" stroke-width="5.2"/>
<line x1="2216.6" y1="1703.6" x2="2216.6" y2="1714.6" stroke="#f7800a" stroke-width="5.2"/>
<line x1="2301.0" y1="1703.6" x2="2301.0" y2="1721.6" stroke="#f7800a" stroke-width="5.2"/>
<line x1="2385.4" y1="1703.6" x2="2385.4" y2="1714.6" stroke="#f7800a" stroke-width="5.2"/>
<line x1="2469.8" y1="1703.6" x2="2469.8" y2="1721.6" stroke="#f7800a" stroke-width="5.2"/>
<rect x="1966.3" y="254.3" width="500.9" height="210.1" fill="#bebebe" fill-opacity="0.45"/>
<rect x="1969.4" y="951.3" width="496.4" height="453.0" fill="#bebebe" fill-opacity="0.45"/>
<text x="424.9" y="50.5" font-size="50.6" fill="#000" text-anchor="middle" >Size proportion (%)</text>
<text x="1639.4" y="57.0" font-size="50.35" fill="#000" text-anchor="middle" >Size proportion (%)</text>
<text x="995.6" y="55.8" font-size="51.3" fill="#0a6ab0" text-anchor="middle" >Φ50 (φ)</text>
<text x="2209.7" y="56.4" font-size="51.3" fill="#0a6ab0" text-anchor="middle" >Φ50 (φ)</text>
<text x="165.3" y="125.0" font-size="50" fill="#000" text-anchor="middle" >0</text>
<text x="291.3" y="125.0" font-size="50" fill="#000" text-anchor="middle" >25</text>
<text x="420.4" y="125.0" font-size="50" fill="#000" text-anchor="middle" >50</text>
<text x="547.0" y="125.0" font-size="50" fill="#000" text-anchor="middle" >75</text>
<text x="676.5" y="125.0" font-size="50" fill="#000" text-anchor="middle" >100</text>
<text x="1381.0" y="128.7" font-size="50" fill="#000" text-anchor="middle" >0</text>
<text x="1506.5" y="128.7" font-size="50" fill="#000" text-anchor="middle" >25</text>
<text x="1635.0" y="128.7" font-size="50" fill="#000" text-anchor="middle" >50</text>
<text x="1760.2" y="128.7" font-size="50" fill="#000" text-anchor="middle" >75</text>
<text x="1890.0" y="128.7" font-size="50" fill="#000" text-anchor="middle" >100</text>
<text x="745.9" y="125.6" font-size="50" fill="#0a6ab0" text-anchor="middle" >0</text>
<text x="1000.8" y="125.6" font-size="50" fill="#0a6ab0" text-anchor="middle" >5</text>
<text x="1258.6" y="125.6" font-size="50" fill="#0a6ab0" text-anchor="middle" >10</text>
<text x="1963.3" y="128.7" font-size="50" fill="#0a6ab0" text-anchor="middle" >0</text>
<text x="2209.0" y="128.7" font-size="50" fill="#0a6ab0" text-anchor="middle" >5</text>
<text x="2457.8" y="128.7" font-size="50" fill="#0a6ab0" text-anchor="middle" >10</text>
<text x="138.0" y="174.8" font-size="50" fill="#000" text-anchor="end" >0</text>
<text x="1353.5" y="178.6" font-size="50" fill="#000" text-anchor="end" >0</text>
<text x="138.0" y="430.0" font-size="50" fill="#000" text-anchor="end" >10</text>
<text x="1353.5" y="435.6" font-size="50" fill="#000" text-anchor="end" >10</text>
<text x="138.0" y="685.2" font-size="50" fill="#000" text-anchor="end" >20</text>
<text x="1353.5" y="692.6" font-size="50" fill="#000" text-anchor="end" >20</text>
<text x="138.0" y="940.3" font-size="50" fill="#000" text-anchor="end" >30</text>
<text x="1353.5" y="949.7" font-size="50" fill="#000" text-anchor="end" >30</text>
<text x="138.0" y="1195.5" font-size="50" fill="#000" text-anchor="end" >40</text>
<text x="1353.5" y="1206.7" font-size="50" fill="#000" text-anchor="end" >40</text>
<text x="138.0" y="1450.7" font-size="50" fill="#000" text-anchor="end" >50</text>
<text x="1353.5" y="1463.7" font-size="50" fill="#000" text-anchor="end" >50</text>
<text x="138.0" y="1705.9" font-size="50" fill="#000" text-anchor="end" >60</text>
<text x="1353.5" y="1720.7" font-size="50" fill="#000" text-anchor="end" >60</text>
<text x="739.8" y="1759.6" font-size="50" fill="#f7800a" text-anchor="middle" >0.0</text>
<text x="910.0" y="1759.6" font-size="50" fill="#f7800a" text-anchor="middle" >0.5</text>
<text x="1080.0" y="1759.6" font-size="50" fill="#f7800a" text-anchor="middle" >1.0</text>
<text x="1251.0" y="1759.6" font-size="50" fill="#f7800a" text-anchor="middle" >1.5</text>
<text x="1963.1" y="1768.3" font-size="43" fill="#f7800a" text-anchor="middle" >0.0</text>
<text x="2131.0" y="1768.3" font-size="43" fill="#f7800a" text-anchor="middle" >0.5</text>
<text x="2302.9" y="1768.3" font-size="43" fill="#f7800a" text-anchor="middle" >1.0</text>
<text x="2471.0" y="1768.3" font-size="43" fill="#f7800a" text-anchor="middle" >1.5</text>
<text x="994.5" y="1806.3" font-size="50" fill="#f7800a" text-anchor="middle" >TOC(%)</text>
<text x="2216.0" y="1817.5" font-size="50" fill="#f7800a" text-anchor="middle" >TOC(%)</text>
<text x="207.0" y="1677.5" font-size="61" fill="#3a2f2d" text-anchor="start" >YS 4</text>
<text x="1397.0" y="1691.0" font-size="61" fill="#3a2f2d" text-anchor="start" >YS 7</text>
<text transform="translate(64.5,939) rotate(-90)" font-size="59" font-weight="bold" fill="#2a2220" text-anchor="middle" letter-spacing="2.3">Depth (mbsf)</text>
<text transform="translate(237,1532.5) rotate(-90)" font-size="43" fill="#fff" stroke="#fff" stroke-width="0.35" text-anchor="middle" letter-spacing="0">Sand</text>
<text transform="translate(568,1299.5) rotate(-90)" font-size="43" fill="#fff" stroke="#fff" stroke-width="0.35" text-anchor="middle" letter-spacing="0">Silt</text>
<text transform="translate(651,983.5) rotate(-90)" font-size="43.5" fill="#fff" stroke="#fff" stroke-width="0.35" text-anchor="middle" letter-spacing="0">Clay</text>
<text transform="translate(1544.5,1585) rotate(-90)" font-size="42" fill="#fff" stroke="#fff" stroke-width="0.35" text-anchor="middle" letter-spacing="0">Sand</text>
<text transform="translate(1699,247.5) rotate(-90)" font-size="42" fill="#fff" stroke="#fff" stroke-width="0.35" text-anchor="middle" letter-spacing="7.9">Silt</text>
<text transform="translate(1878.5,252.5) rotate(-90)" font-size="42" fill="#fff" stroke="#fff" stroke-width="0.35" text-anchor="middle" letter-spacing="1.6">Clay</text>
</svg>
</body></html>
